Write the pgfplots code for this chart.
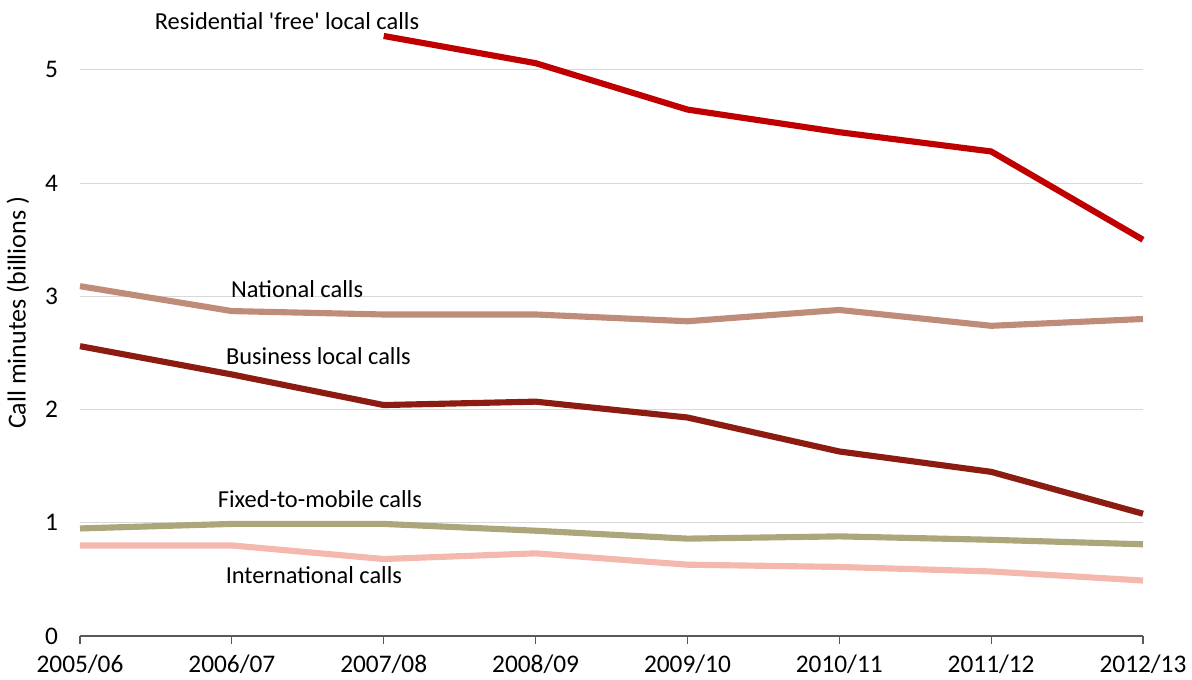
\documentclass[border=0pt]{standalone}
\usepackage{pgfplots}
\pgfplotsset{compat=1.18}
\usepackage{fontspec}
\setmainfont{Carlito}
\definecolor{resid}{RGB}{192,0,0}
\definecolor{natl}{RGB}{192,140,122}
\definecolor{busi}{RGB}{140,28,18}
\definecolor{ftm}{RGB}{172,167,122}
\definecolor{intl}{RGB}{244,184,174}
\begin{document}
\begin{tikzpicture}
\useasboundingbox (-60pt,-32.25pt) rectangle (834pt,477pt);
\begin{axis}[
  at={(0,0)}, anchor=south west,
  scale only axis,
  width=797.25pt, height=467pt,
  xmin=0, xmax=7, ymin=0, ymax=5.5,
  xtick={0,1,2,3,4,5,6,7},
  xticklabels={2005/06,2006/07,2007/08,2008/09,2009/10,2010/11,2011/12,2012/13},
  ytick={0,1,2,3,4,5},
  /pgf/number format/assume math mode=true,
  axis x line*=bottom,
  axis y line*=left,
  y axis line style={draw=none},
  ytick style={draw=none},
  x axis line style={draw=black!65, line width=0.8pt},
  xtick style={draw=black!65, line width=0.8pt},
  xtick align=outside,
  major tick length=6pt,
  ymajorgrids,
  grid style={draw=black!15, line width=0.8pt},
  tick label style={font=\fontsize{19}{19}\selectfont, text=black},
  yticklabel style={xshift=-13pt},
  xticklabel style={yshift=-5pt},
  ylabel={Call minutes (billions )},
  every axis y label/.style={at={(axis description cs:-0.0585,0.519)}, rotate=90, anchor=center, font=\fontsize{19.5}{19.5}\selectfont},
  clip=false,
  line join=round,
]
\addplot[resid, line width=4.6pt] coordinates {(2,5.30) (3,5.06) (4,4.65) (5,4.45) (6,4.28) (7,3.50)};
\addplot[natl, line width=4.6pt] coordinates {(0,3.09) (1,2.87) (2,2.84) (3,2.84) (4,2.78) (5,2.88) (6,2.74) (7,2.80)};
\addplot[busi, line width=4.6pt] coordinates {(0,2.56) (1,2.31) (2,2.04) (3,2.07) (4,1.93) (5,1.63) (6,1.45) (7,1.08)};
\addplot[ftm, line width=4.6pt] coordinates {(0,0.95) (1,0.99) (2,0.99) (3,0.93) (4,0.86) (5,0.88) (6,0.85) (7,0.81)};
\addplot[intl, line width=4.6pt] coordinates {(0,0.80) (1,0.80) (2,0.68) (3,0.73) (4,0.63) (5,0.61) (6,0.57) (7,0.49)};
\begin{scope}[every node/.style={font=\fontsize{18.3}{18.3}\selectfont}]
\node at (axis cs:1.363,5.43) {Residential \textquotesingle free\textquotesingle\ local calls};
\node at (axis cs:1.43,3.06) {National calls};
\node at (axis cs:1.57,2.47) {Business local calls};
\node at (axis cs:1.58,1.21) {Fixed-to-mobile calls};
\node at (axis cs:1.54,0.54) {International calls};
\end{scope}
\end{axis}
\end{tikzpicture}
\end{document}
